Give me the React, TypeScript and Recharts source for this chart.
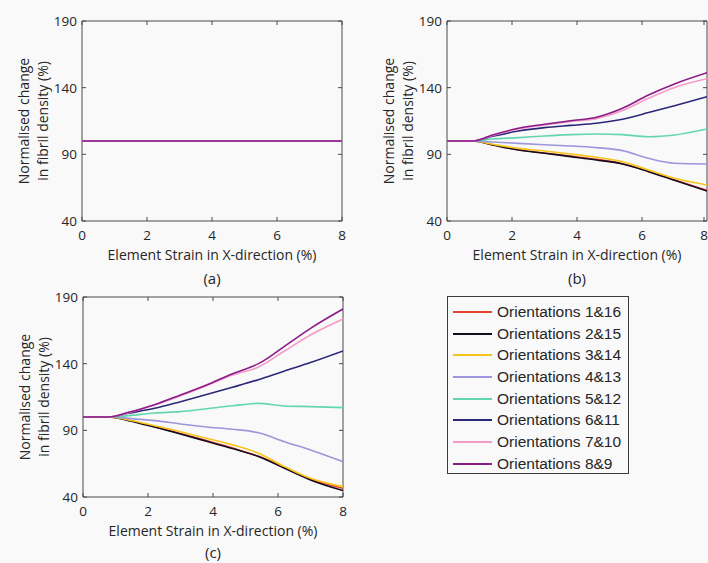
import React from 'react';
import { LineChart, Line, XAxis, YAxis, ReferenceArea } from 'recharts';

// ---------- data ----------
const strain = [0, 0.8, 1.4, 2.2, 3.0, 3.8, 4.6, 5.4, 6.2, 7.0, 8.0];
const xTicks = [0, 2, 4, 6, 8];
const yTicks = [40, 90, 140, 190];

const seriesNames = [
  'Orientations 1&16',
  'Orientations 2&15',
  'Orientations 3&14',
  'Orientations 4&13',
  'Orientations 5&12',
  'Orientations 6&11',
  'Orientations 7&10',
  'Orientations 8&9',
];
const seriesColors = ['#e8452c', '#140a1e', '#f4c51c', '#9c97dc', '#62d6b2', '#2c2878', '#f39cc8', '#8c1c88'];

// panel (a): every orientation stays at 100 %
const a_all = [100, 100, 100, 100, 100, 100, 100, 100, 100, 100, 100];

// panel (b)
const b_o1_16 = [100, 100, 97.2, 93.5, 91.0, 88.7, 86.2, 83.0, 77.3, 70.8, 63.0];
const b_o2_15 = [100, 100, 97.0, 93.2, 90.8, 88.3, 85.8, 82.8, 77.0, 70.5, 62.5];
const b_o3_14 = [100, 100, 97.5, 94.5, 92.5, 90.3, 87.8, 84.5, 78.3, 72.0, 67.0];
const b_o4_13 = [100, 100, 99.3, 98.2, 97.2, 96.3, 95.0, 92.8, 87.0, 83.3, 82.8];
const b_o5_12 = [100, 100, 101.5, 102.5, 103.8, 104.8, 105.3, 104.8, 103.2, 104.5, 109.0];
const b_o6_11 = [100, 100, 103.5, 107.5, 110.0, 111.7, 113.3, 116.3, 121.3, 126.5, 133.2];
const b_o7_10 = [100, 100, 104.2, 109.0, 112.0, 114.7, 116.8, 122.8, 132.0, 140.2, 146.7];
const b_o8_9 = [100, 100, 104.5, 109.5, 112.5, 115.2, 117.8, 124.5, 134.5, 142.8, 151.2];

// panel (c)
const c_o1_16 = [100, 100, 97.5, 92.8, 87.6, 82.3, 76.8, 70.5, 62.3, 53.5, 46.5];
const c_o2_15 = [100, 100, 97.3, 92.5, 87.3, 81.8, 76.3, 70.3, 61.5, 52.8, 44.8];
const c_o3_14 = [100, 100, 97.8, 93.5, 89.0, 84.0, 79.1, 72.8, 62.8, 54.0, 47.8];
const c_o4_13 = [100, 100, 99.0, 97.3, 94.8, 92.5, 90.8, 88.2, 81.5, 75.3, 66.5];
const c_o5_12 = [100, 100, 101.0, 103.0, 104.0, 106.2, 108.4, 110.2, 108.3, 107.8, 107.0];
const c_o6_11 = [100, 100, 102.8, 106.5, 111.5, 116.8, 122.3, 128.0, 134.5, 140.8, 149.5];
const c_o7_10 = [100, 100, 103.3, 109.0, 116.0, 123.5, 131.5, 137.5, 149.5, 161.5, 173.5];
const c_o8_9 = [100, 100, 103.5, 109.2, 116.5, 124.0, 132.4, 140.0, 153.0, 166.5, 181.0];

const panelA = [a_all, a_all, a_all, a_all, a_all, a_all, a_all, a_all];
const panelB = [b_o1_16, b_o2_15, b_o3_14, b_o4_13, b_o5_12, b_o6_11, b_o7_10, b_o8_9];
const panelC = [c_o1_16, c_o2_15, c_o3_14, c_o4_13, c_o5_12, c_o6_11, c_o7_10, c_o8_9];

const buildRows = (series: number[][]) =>
  strain.map((x, i) => {
    const row: Record<string, number> = { x };
    series.forEach((s, k) => {
      row['s' + k] = s[i];
    });
    return row;
  });

// ---------- style ----------
const BG = '#f9f9f9';
const AX = '#4a4a4a';
const TXT = '#262626';
const FONT = '"Open Sans", "DejaVu Sans", sans-serif';

type PanelProps = {
  series: number[][];
  left: number;
  top: number;
  yAxisWidth: number;
  marginRight: number;
  tag: string;
  tagOffset: number;
};

const W = 354;
const H = 300;
const PT = 21; // plot top in chart coords
const PH = 200;

function Panel({ series, left, top, yAxisWidth, marginRight, tag, tagOffset }: PanelProps) {
  const rows = buildRows(series);
  const plotLeft = yAxisWidth;
  const plotRight = W - marginRight;
  const plotTop = PT;
  const plotBottom = PT + PH;
  const cx = (plotLeft + plotRight) / 2;

  const xTick = (p: any) => (
    <g>
      <line x1={p.x} x2={p.x} y1={plotBottom} y2={plotBottom - 4} stroke={AX} />
      <line x1={p.x} x2={p.x} y1={plotTop} y2={plotTop + 4} stroke={AX} />
      <text x={p.x} y={plotBottom + 14} textAnchor="middle" dominantBaseline="central" fill={TXT} fontSize={13.5} fontFamily={FONT}>
        {p.payload.value}
      </text>
    </g>
  );
  const yTick = (p: any) => (
    <g>
      <line x1={plotLeft} x2={plotLeft + 4} y1={p.y} y2={p.y} stroke={AX} />
      <line x1={plotRight} x2={plotRight - 4} y1={p.y} y2={p.y} stroke={AX} />
      <text x={plotLeft - 5} y={p.y} textAnchor="end" dominantBaseline="central" fill={TXT} fontSize={13.5} fontFamily={FONT}>
        {p.payload.value}
      </text>
    </g>
  );
  const xTitle = () => (
    <g>
      <text x={cx} y={plotBottom + 33} textAnchor="middle" dominantBaseline="central" fill={TXT} fontSize={14} fontFamily={FONT}>
        Element Strain in X-direction (%)
      </text>
      <text x={cx} y={plotBottom + tagOffset} textAnchor="middle" dominantBaseline="central" fill={TXT} fontSize={15} fontFamily={FONT}>
        {tag}
      </text>
    </g>
  );
  const cy = (plotTop + plotBottom) / 2;
  const yTitle = () => (
    <g>
      <text transform={`translate(${plotLeft - 59},${cy}) rotate(-90)`} textAnchor="middle" dominantBaseline="central" fill={TXT} fontSize={14} fontFamily={FONT}>
        Normalised change
      </text>
      <text transform={`translate(${plotLeft - 40},${cy}) rotate(-90)`} textAnchor="middle" dominantBaseline="central" fill={TXT} fontSize={14} fontFamily={FONT}>
        in fibril density (%)
      </text>
    </g>
  );

  return (
    <div style={{ position: 'absolute', left, top, width: W, height: H }}>
      <LineChart width={W} height={H} data={rows} margin={{ top: PT, right: marginRight, left: 0, bottom: 0 }}>
        <XAxis
          dataKey="x"
          type="number"
          domain={[0, 8]}
          ticks={xTicks}
          allowDataOverflow
          axisLine={false}
          tickLine={false}
          height={H - PT - PH}
          tick={xTick}
          label={{ content: xTitle }}
        />
        <YAxis
          type="number"
          domain={[40, 190]}
          ticks={yTicks}
          allowDataOverflow
          axisLine={false}
          tickLine={false}
          width={yAxisWidth}
          tick={yTick}
          label={{ content: yTitle }}
        />
        <ReferenceArea x1={0} x2={8} y1={40} y2={190} fill="none" stroke={AX} strokeWidth={1} />
        {series.map((_, k) => (
          <Line
            key={k}
            dataKey={'s' + k}
            type="monotone"
            stroke={seriesColors[k]}
            strokeWidth={1.6}
            dot={false}
            activeDot={false}
            isAnimationActive={false}
          />
        ))}
      </LineChart>
    </div>
  );
}

function LegendBox() {
  return (
    <div
      style={{
        position: 'absolute',
        left: 447,
        top: 296,
        width: 182,
        height: 178,
        border: '1.5px solid #3a3a3a',
        background: BG,
        boxSizing: 'border-box',
      }}
    >
      {seriesNames.map((name, k) => (
        <div
          key={name}
          style={{
            position: 'absolute',
            left: 0,
            top: 4 + k * 21.7,
            height: 21.7,
            display: 'flex',
            alignItems: 'center',
            whiteSpace: 'nowrap',
          }}
        >
          <div style={{ width: 39, height: 2, background: seriesColors[k], marginLeft: 5, marginRight: 5 }} />
          <span style={{ fontFamily: '"Liberation Sans", Arial, sans-serif', fontSize: 15.5, color: TXT }}>{name}</span>
        </div>
      ))}
    </div>
  );
}

export default function App() {
  return (
    <div style={{ position: 'absolute', left: 0, top: 0, width: 708, height: 563, background: BG, overflow: 'hidden' }}>
      <Panel series={panelA} left={0} top={0} yAxisWidth={82} marginRight={12} tag="(a)" tagOffset={57} />
      <Panel series={panelB} left={354} top={0} yAxisWidth={93} marginRight={1} tag="(b)" tagOffset={57} />
      <Panel series={panelC} left={0} top={276} yAxisWidth={83} marginRight={11} tag="(c)" tagOffset={55} />
      <LegendBox />
    </div>
  );
}
